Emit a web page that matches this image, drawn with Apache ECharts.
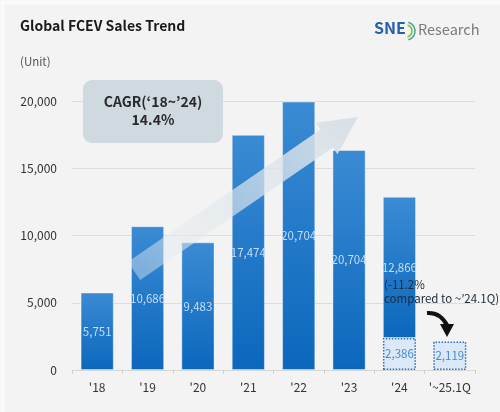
<!DOCTYPE html>
<html><head><meta charset="utf-8">
<script src="https://cdn.jsdelivr.net/npm/echarts@6/dist/echarts.min.js"></script>
<style>html,body{margin:0;padding:0;background:#fafafa}#c{width:500px;height:412px;}</style>
</head><body><div id="c"></div>
<script>
var categories = ["'18","'19","'20","'21","'22","'23","'24","'~25.1Q"];
var totalValues = [5751, 10686, 9483, 17474, 19950, 16350, 12866, null];
var quarterValues = [null, null, null, null, null, null, 2386, 2119];
var totalLabels = ["5,751","10,686","9,483","17,474","20,704","20,704","12,866",""];
var quarterLabels = ["","","","","","","2,386","2,119"];
var yTicks = [0, 5000, 10000, 15000, 20000];

var darkValues = totalValues.map(function(v,i){ return v==null ? null : v - (quarterValues[i]||0); });

var chart = echarts.init(document.getElementById('c'), null, {renderer:'canvas'});
var FONT = '"Noto Sans CJK KR","Noto Sans",sans-serif';

function arrowPoints(ax, ay, tx, ty, shaftHalf, headHalf, headLen){
  var dx = tx-ax, dy = ty-ay, L = Math.sqrt(dx*dx+dy*dy);
  var ux = dx/L, uy = dy/L, nx = -uy, ny = ux;
  var bx = tx-ux*headLen, by = ty-uy*headLen;
  return [
    [ax+nx*shaftHalf, ay+ny*shaftHalf],
    [bx+nx*shaftHalf, by+ny*shaftHalf],
    [bx+nx*headHalf, by+ny*headHalf],
    [tx, ty],
    [bx-nx*headHalf, by-ny*headHalf],
    [bx-nx*shaftHalf, by-ny*shaftHalf],
    [ax-nx*shaftHalf, ay-ny*shaftHalf]
  ];
}

var option = {
  backgroundColor: '#f3f3f3',
  animation: false,
  textStyle: {fontFamily: FONT},
  grid: {left: 72, right: 25, top: 101, bottom: 42},
  xAxis: {
    type: 'category', data: categories,
    axisLine: {lineStyle: {color: '#d6d6d6'}},
    axisTick: {show: true, length: 4, lineStyle: {color: '#cfcfcf'}},
    axisLabel: {color: '#333', fontSize: 12, margin: 11, interval: 0, fontFamily: FONT}
  },
  yAxis: {
    type: 'value', min: 0, max: 20000, interval: 5000,
    axisLine: {show: false}, axisTick: {show: false},
    splitLine: {lineStyle: {color: '#dcdcdc'}},
    axisLabel: {color: '#333', fontSize: 12, margin: 15, fontFamily: FONT,
      formatter: function(v){ return yTicks.indexOf(v) >= 0 ? v.toLocaleString('en-US') : ''; }}
  },
  series: [
    {
      type: 'bar', stack: 's', barWidth: 33, data: quarterValues, z: 3,
      itemStyle: {color: '#dbe8f7', borderColor: '#2f6fb6', borderType: 'dotted', borderWidth: 1.5},
      label: {show: true, position: 'inside', color: '#4a8ad0', fontSize: 11.5, fontFamily: FONT,
        formatter: function(p){ return quarterLabels[p.dataIndex]; }}
    },
    {
      type: 'bar', stack: 's', barWidth: 33, data: darkValues, z: 2,
      itemStyle: {
        color: new echarts.graphic.LinearGradient(0,0,0,1,[{offset:0,color:'#3b8bd3'},{offset:1,color:'#0b67bd'}]),
        borderColor: 'rgba(255,255,255,0.5)', borderWidth: 0.8
      },
      label: {show: true, position: 'inside', color: '#c4def6', fontSize: 11.5, fontFamily: FONT,
        formatter: function(p){ return totalLabels[p.dataIndex]; }}
    }
  ],
  graphic: [
    {type:'rect', left:0, top:0, z:-1, silent:true,
      shape:{width:500,height:412}, style:{fill:'none', stroke:'#fbfbfb', lineWidth:4}},
    {type:'text', x:20, y:19, style:{text:'Global FCEV Sales Trend', font:'bold 14px '+FONT, fill:'#1a1a1a'}},
    {type:'text', x:20, y:56, style:{text:'(Unit)', font:'11.5px '+FONT, fill:'#555'}},
    {type:'text', x:374, y:20, style:{text:'SNE', font:'bold 16px '+FONT, fill:'#2460ad'}},
    {type:'arc', z:10, shape:{cx:406, cy:31, r:6, startAngle:-Math.PI/2.4, endAngle:Math.PI/2.4}, style:{stroke:'#8cc63f', lineWidth:1.8, fill:'none'}},
    {type:'arc', z:10, shape:{cx:406, cy:31, r:9, startAngle:-Math.PI/2.4, endAngle:Math.PI/2.4}, style:{stroke:'#3fa7a0', lineWidth:1.5, fill:'none'}},
    {type:'text', x:418, y:22, style:{text:'Research', font:'14.5px '+FONT, fill:'#7a7a7a'}},
    {type:'polygon', z:20, silent:true,
      shape:{points: arrowPoints(134, 271, 358, 117, 11, 19, 38)},
      style:{fill: new echarts.graphic.LinearGradient(0,1,1,0,[{offset:0,color:'rgba(232,238,242,0.4)'},{offset:1,color:'rgba(214,223,230,0.97)'}])}},
    {type:'rect', z:21, shape:{x:83, y:80, width:140, height:63, r:9}, style:{fill:'#cfd9e0'}},
    {type:'text', z:22, x:153, y:95, style:{text:'CAGR(\u201818~\u201924)', font:'bold 14px '+FONT, fill:'#2a2a2a', align:'center', verticalAlign:'top'}},
    {type:'text', z:22, x:153, y:113, style:{text:'14.4%', font:'bold 14px '+FONT, fill:'#2a2a2a', align:'center', verticalAlign:'top'}},
    {type:'text', z:22, x:384, y:279, style:{text:'(-11.2%', font:'11.5px '+FONT, fill:'#1d2b3c'}},
    {type:'text', z:22, x:384, y:293, style:{text:'compared to ~\u201924.1Q)', font:'11.5px '+FONT, fill:'#1d2b3c'}},
    {type:'bezierCurve', z:22, shape:{x1:427, y1:313, cpx1:440, cpy1:312, x2:447, y2:325}, style:{stroke:'#111', lineWidth:4, fill:'none'}},
    {type:'polygon', z:22, shape:{points:[[440,324],[454,324],[447,337]]}, style:{fill:'#111'}}
  ]
};
chart.setOption(option);
</script></body></html>
